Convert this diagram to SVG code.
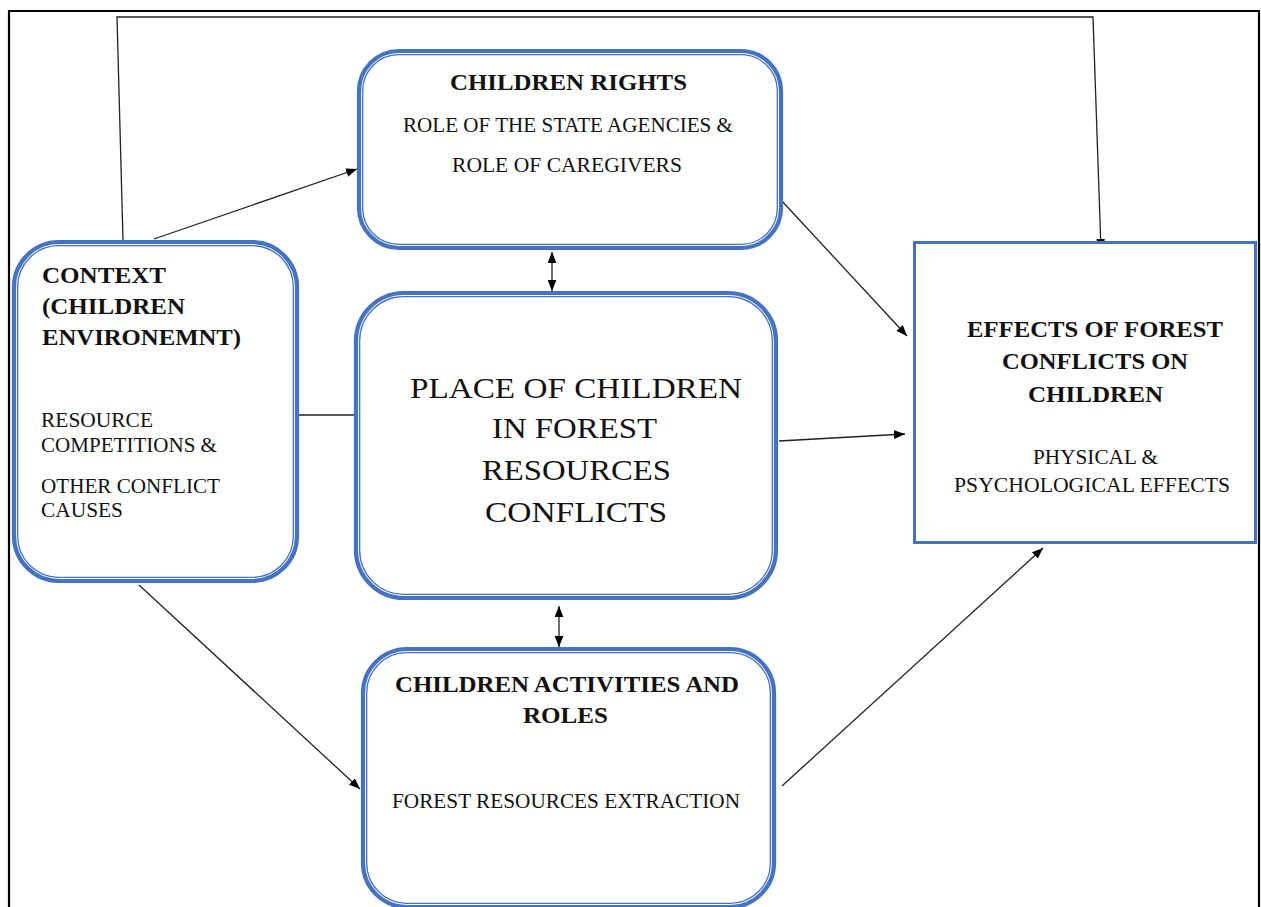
<svg xmlns="http://www.w3.org/2000/svg" width="1261" height="907" viewBox="0 0 1261 907">
<defs>
<marker id="ah" viewBox="0 0 10 8" refX="10" refY="4" markerWidth="11" markerHeight="9" markerUnits="userSpaceOnUse" orient="auto-start-reverse">
<path d="M0,0 L10,4 L0,8 Z" fill="#000"/>
</marker>
<style>
.o{fill:#fff;stroke:#4472C4;stroke-width:4.2}
.i{fill:none;stroke:#4472C4;stroke-width:1.3}
.sq{fill:#fff;stroke:#4472C4;stroke-width:3}
.c{fill:none;stroke:#222;stroke-width:1.3}
.a{marker-end:url(#ah)}
.b{marker-start:url(#ah);marker-end:url(#ah)}
text{font-family:"Liberation Serif","Times New Roman",serif;fill:#111}
.t{font-weight:bold;font-size:23px}
.r{font-size:21px}
.big{font-size:30px}
</style>
</defs>
<rect width="1261" height="907" fill="#fff"/>
<path d="M9,910 V11 H1259 V910" fill="none" stroke="#000" stroke-width="2.2"/>

<g id="connectors">
<polyline class="c a" points="123,240 117,17 1093,17 1101,250"/>
<line class="c a" x1="154" y1="239" x2="357" y2="169"/>
<line class="c a" x1="781" y1="200" x2="907" y2="336"/>
<line class="c a" x1="779" y1="441" x2="905" y2="434"/>
<line class="c a" x1="782" y1="786" x2="1043" y2="548"/>
<line class="c a" x1="139" y1="585" x2="360" y2="789"/>
<line class="c" x1="298" y1="415" x2="355" y2="415"/>
<line class="c b" x1="552" y1="252" x2="552" y2="291"/>
<line class="c b" x1="559" y1="606" x2="559" y2="647"/>
</g>

<g id="context">
<rect class="o" x="14" y="242" width="283" height="339" rx="45"/>
<rect class="i" x="17.7" y="245.7" width="275.6" height="331.6" rx="41"/>
<text class="t" x="42" y="283" textLength="124" lengthAdjust="spacingAndGlyphs">CONTEXT</text>
<text class="t" x="42" y="314" textLength="143" lengthAdjust="spacingAndGlyphs">(CHILDREN</text>
<text class="t" x="42" y="345" textLength="199" lengthAdjust="spacingAndGlyphs">ENVIRONEMNT)</text>
<text class="r" x="41" y="427" textLength="112" lengthAdjust="spacingAndGlyphs">RESOURCE</text>
<text class="r" x="41" y="452" textLength="176" lengthAdjust="spacingAndGlyphs">COMPETITIONS &amp;</text>
<text class="r" x="41" y="493" textLength="179" lengthAdjust="spacingAndGlyphs">OTHER CONFLICT</text>
<text class="r" x="41" y="517" textLength="82" lengthAdjust="spacingAndGlyphs">CAUSES</text>
</g>

<g id="children-rights">
<rect class="o" x="359" y="51" width="422" height="197" rx="40"/>
<rect class="i" x="362.7" y="54.7" width="414.6" height="189.6" rx="36"/>
<text class="t" x="450" y="90" textLength="237" lengthAdjust="spacingAndGlyphs">CHILDREN RIGHTS</text>
<text class="r" x="403" y="132" textLength="330" lengthAdjust="spacingAndGlyphs">ROLE OF THE STATE AGENCIES &amp;</text>
<text class="r" x="452" y="172" textLength="230" lengthAdjust="spacingAndGlyphs">ROLE OF CAREGIVERS</text>
</g>

<g id="place">
<rect class="o" x="356" y="293" width="420" height="305" rx="48"/>
<rect class="i" x="359.7" y="296.7" width="412.6" height="297.6" rx="44"/>
<text class="big" x="410" y="398" textLength="332" lengthAdjust="spacingAndGlyphs">PLACE OF CHILDREN</text>
<text class="big" x="492" y="438" textLength="165" lengthAdjust="spacingAndGlyphs">IN FOREST</text>
<text class="big" x="482" y="480" textLength="189" lengthAdjust="spacingAndGlyphs">RESOURCES</text>
<text class="big" x="485" y="522" textLength="182" lengthAdjust="spacingAndGlyphs">CONFLICTS</text>
</g>

<g id="activities">
<rect class="o" x="363" y="649" width="411" height="258" rx="44"/>
<rect class="i" x="366.7" y="652.7" width="403.6" height="250.6" rx="40"/>
<text class="t" x="395" y="692" textLength="344" lengthAdjust="spacingAndGlyphs">CHILDREN ACTIVITIES AND</text>
<text class="t" x="523" y="723" textLength="85" lengthAdjust="spacingAndGlyphs">ROLES</text>
<text class="r" x="392" y="808" textLength="348" lengthAdjust="spacingAndGlyphs">FOREST RESOURCES EXTRACTION</text>
</g>

<g id="effects">
<rect class="sq" x="914.5" y="242.5" width="341" height="300"/>
<text class="t" x="967" y="337" textLength="256" lengthAdjust="spacingAndGlyphs">EFFECTS OF FOREST</text>
<text class="t" x="1002" y="369" textLength="186" lengthAdjust="spacingAndGlyphs">CONFLICTS ON</text>
<text class="t" x="1028" y="402" textLength="135" lengthAdjust="spacingAndGlyphs">CHILDREN</text>
<text class="r" x="1033" y="464" textLength="125" lengthAdjust="spacingAndGlyphs">PHYSICAL &amp;</text>
<text class="r" x="954" y="492" textLength="276" lengthAdjust="spacingAndGlyphs">PSYCHOLOGICAL EFFECTS</text>
</g>
</svg>
